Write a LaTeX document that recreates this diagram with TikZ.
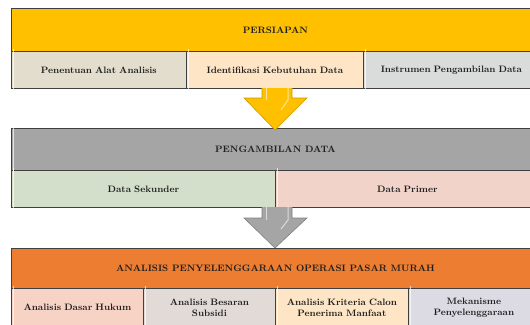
\documentclass[tikz,border=0pt]{standalone}
\usetikzlibrary{calc}
\definecolor{bordc}{HTML}{3F3F3F}
\definecolor{txtc}{HTML}{1E1E1E}
\definecolor{yelhead}{HTML}{FFC000}
\definecolor{grayhead}{HTML}{A5A5A5}
\definecolor{orhead}{HTML}{ED7D31}
\definecolor{cTan}{HTML}{E2DDCD}
\definecolor{cPeach}{HTML}{FDE5C6}
\definecolor{cLgray}{HTML}{D9DCDA}
\definecolor{cGreen}{HTML}{D4DFCB}
\definecolor{cPink}{HTML}{F2D3CA}
\definecolor{cPink2}{HTML}{F7D3C6}
\definecolor{cBrown}{HTML}{E1DAD6}
\definecolor{cLav}{HTML}{DCDBE3}
\definecolor{arrY}{HTML}{FFC000}
\definecolor{arrYb}{HTML}{C99A00}
\definecolor{arrG}{HTML}{A5A5A5}
\definecolor{arrGb}{HTML}{7F7F7F}
\tikzset{
  cell/.style={draw=bordc, line width=0.8pt, anchor=north west, inner sep=1pt,
     align=center, text=txtc, font=\fontsize{9.3}{11}\selectfont\bfseries},
  head/.style={cell},
}
\begin{document}
\begin{tikzpicture}[x=1pt,y=-1pt]
\useasboundingbox (0,0) rectangle (530,324);
% block 1
\node[head, fill=yelhead, minimum width=528pt, minimum height=43pt] (h1) at (11,8) {PERSIAPAN};
\node[cell, fill=cTan, minimum width=175pt, minimum height=37pt, text width=165pt] (s11) at (11,51) {Penentuan Alat Analisis};
\node[cell, fill=cPeach, minimum width=177pt, minimum height=37pt, text width=167pt] (s12) at (186,51) {Identifikasi Kebutuhan Data};
\node[cell, fill=cLgray, minimum width=176pt, minimum height=37pt, text width=166pt] (s13) at (363,51) {Instrumen Pengambilan Data};
% block 2
\node[head, fill=grayhead, minimum width=528pt, minimum height=42pt] (h2) at (11,128) {PENGAMBILAN DATA};
\node[cell, fill=cGreen, minimum width=264pt, minimum height=37pt, text width=254pt] (s21) at (11,170) {Data Sekunder};
\node[cell, fill=cPink, minimum width=264pt, minimum height=37pt, text width=254pt] (s22) at (275,170) {Data Primer};
% block 3
\node[head, fill=orhead, minimum width=528pt, minimum height=40pt] (h3) at (11,248) {ANALISIS PENYELENGGARAAN OPERASI PASAR MURAH};
\node[cell, fill=cPink2, minimum width=132pt, minimum height=38pt, text width=126pt] (s31) at (11,288) {Analisis Dasar Hukum};
\node[cell, fill=cBrown, minimum width=132pt, minimum height=38pt, text width=126pt] (s32) at (143,288) {Analisis Besaran\\Subsidi};
\node[cell, fill=cPeach, minimum width=133pt, minimum height=38pt, text width=127pt] (s33) at (275,288) {Analisis Kriteria Calon\\Penerima Manfaat};
\node[cell, fill=cLav, minimum width=131pt, minimum height=38pt, text width=125pt] (s34) at (408,288) {Mekanisme\\Penyelenggaraan};
% bevel highlights
\foreach \n in {s11,s12,s13,s21,s22,s31,s32,s33,s34,h2}{
  \draw[white, opacity=0.7, line width=1pt] ($(\n.north west)+(2.5,-2)$) -- ($(\n.south west)+(2.5,2)$);
}
% block arrows
\filldraw[fill=arrY, draw=arrYb, line width=0.6pt]
  (262,88) -- (262,98) -- (244,98) -- (275,130) -- (307,98) -- (292,98) -- (292,88);
\draw[white, opacity=0.6, line width=1pt] (266,88) -- (266,100);
\draw[white, opacity=0.6, line width=1pt] (288,88) -- (288,100) -- (281,110);
\filldraw[fill=arrG, draw=arrGb, line width=0.6pt]
  (262,207) -- (262,218) -- (244,218) -- (275,248) -- (307,218) -- (292,218) -- (292,207);
\draw[white, opacity=0.6, line width=1pt] (266,207) -- (266,220);
\draw[white, opacity=0.6, line width=1pt] (288,207) -- (288,220) -- (281,229);
\end{tikzpicture}
\end{document}
